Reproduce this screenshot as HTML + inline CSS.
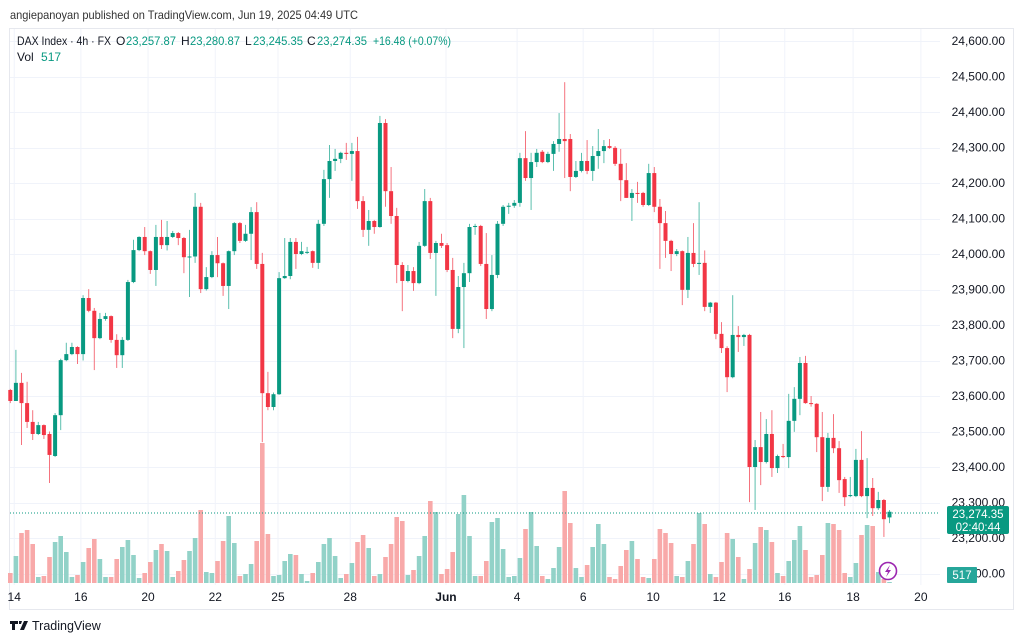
<!DOCTYPE html>
<html><head><meta charset="utf-8">
<style>
html,body{margin:0;padding:0;background:#fff;width:1024px;height:642px;overflow:hidden;font-family:"Liberation Sans",sans-serif;}
svg text{font-family:"Liberation Sans",sans-serif;}
</style></head>
<body>
<svg id="chart" width="1024" height="642" viewBox="0 0 1024 642" xmlns="http://www.w3.org/2000/svg">
  <text x="10" y="19" font-size="12" fill="#333" textLength="348" lengthAdjust="spacingAndGlyphs">angiepanoyan published on TradingView.com, Jun 19, 2025 04:49 UTC</text>
  <rect x="9.5" y="28.5" width="1004" height="581" fill="#fff" stroke="#e6e8ee"/>
  <g id="grid"></g>
  <g id="vols"></g>
  <line x1="10" x2="940" y1="513" y2="513" stroke="#089981" stroke-width="1" stroke-dasharray="1,2"/>
  <g id="candles"></g>
  <g id="yaxis"></g>
  <g id="xaxis"></g>
  <g font-size="12">
    <text x="17" y="45" fill="#131722" textLength="94" lengthAdjust="spacingAndGlyphs">DAX Index · 4h · FX</text>
    <text x="116" y="45" fill="#131722">O</text>
    <text x="126" y="45" fill="#089981" textLength="50" lengthAdjust="spacingAndGlyphs">23,257.87</text>
    <text x="181" y="45" fill="#131722">H</text>
    <text x="190" y="45" fill="#089981" textLength="50" lengthAdjust="spacingAndGlyphs">23,280.87</text>
    <text x="245" y="45" fill="#131722">L</text>
    <text x="253" y="45" fill="#089981" textLength="50" lengthAdjust="spacingAndGlyphs">23,245.35</text>
    <text x="307" y="45" fill="#131722">C</text>
    <text x="317" y="45" fill="#089981" textLength="50" lengthAdjust="spacingAndGlyphs">23,274.35</text>
    <text x="373" y="45" fill="#089981" textLength="78" lengthAdjust="spacingAndGlyphs">+16.48 (+0.07%)</text>
  </g>
  <text x="17" y="61" font-size="12" fill="#131722">Vol <tspan fill="#089981" dx="4">517</tspan></text>
  <rect x="947" y="506" width="62" height="28" rx="2" fill="#089981"/>
  <text x="978" y="518" font-size="11.5" fill="#fff" text-anchor="middle">23,274.35</text>
  <text x="978" y="531" font-size="11.5" fill="#fff" text-anchor="middle">02:40:44</text>
  <rect x="947" y="567" width="30" height="16" rx="1" fill="#26a69a"/>
  <text x="962" y="579" font-size="11.5" fill="#fff" text-anchor="middle">517</text>
  <g>
    <circle cx="888" cy="571" r="8.5" fill="#fff" stroke="#9c27b0" stroke-width="1.6"/>
    <path d="M890 565 L885 572 L888 572 L886 577 L891 570 L888 570 Z" fill="#9c27b0"/>
  </g>
  <g>
    <path d="M10 621 h8 v3 h-3 v6 h-3 v-6 h-2 z M19 621 h3 l-1 3 h-2 z M24 621 h4 l-4 9 h-4 z" fill="#131722"/>
    <text x="32" y="630" font-size="12.5" fill="#131722">TradingView</text>
  </g>
</svg>
<script>
const opens=[23617,23586,23637,23580,23527,23493,23518,23493,23431,23546,23701,23718,23738,23718,23876,23840,23763,23817,23825,23758,23715,23758,23921,24011,24048,24008,23955,24048,24025,24048,24059,24045,23991,23993,24133,23901,23935,23997,23974,23910,24008,24087,24037,24057,24118,23972,23608,23569,23605,23932,23938,24034,24000,24005,24008,23975,24085,24211,24262,24268,24285,24282,24290,24149,24068,24093,24076,24369,24177,24107,23969,23924,23952,23918,24023,24149,24003,24031,24025,23955,23789,23907,23946,24076,24079,23972,23845,23941,24085,24133,24136,24144,24270,24214,24259,24288,24259,24282,24310,24324,24324,24217,24234,24262,24234,24276,24290,24304,24299,24254,24208,24158,24172,24172,24138,24228,24133,24087,24037,24000,24008,23899,24003,23972,23975,23851,23863,23775,23735,23653,23772,23766,23772,23400,23456,23414,23493,23397,23431,23428,23530,23592,23693,23580,23578,23484,23344,23482,23453,23366,23318,23318,23420,23318,23341,23284,23307,23258];
const highs=[23620,23730,23665,23640,23560,23527,23520,23500,23552,23705,23750,23750,23740,23884,23901,23848,23834,23834,23827,23774,23766,23927,24040,24050,24076,24010,24082,24096,24093,24065,24062,24048,24068,24172,24144,23963,24008,24048,23976,24010,24090,24090,24082,24132,24146,24003,23668,23610,23949,24045,24045,24045,24034,24020,24010,24096,24237,24307,24296,24288,24313,24313,24330,24163,24124,24096,24389,24380,24245,24130,23977,23969,23963,24034,24183,24158,24037,24057,24031,23989,23938,23975,24085,24085,24082,24059,23997,24093,24138,24144,24152,24285,24346,24285,24296,24293,24288,24318,24397,24484,24338,24262,24285,24321,24304,24352,24321,24324,24304,24296,24256,24183,24203,24175,24254,24245,24155,24121,24040,24014,24010,24048,24087,24146,24010,23865,23865,23808,23740,23884,23797,23775,23775,23476,23555,23535,23560,23435,23465,23606,23625,23710,23713,23600,23580,23555,23496,23549,23473,23372,23372,23451,23501,23425,23369,23330,23310,23279];
const lows=[23580,23586,23462,23510,23476,23490,23479,23355,23428,23504,23698,23715,23690,23700,23836,23673,23760,23812,23750,23679,23679,23755,23918,24008,23997,23944,23910,24014,24010,24045,24025,23946,23879,23975,23890,23897,23932,23935,23882,23845,23997,24031,24034,23983,23958,23470,23560,23560,23603,23930,23929,23958,23997,24000,23961,23958,24079,24158,24234,24256,24265,24206,24127,24048,24023,24057,24074,24133,24085,23918,23839,23920,23896,23915,24020,23986,23882,24017,23949,23763,23777,23735,23921,24054,23966,23817,23839,23932,24079,24113,24130,24133,24206,24124,24245,24256,24256,24234,24288,24214,24177,24214,24230,24225,24206,24240,24256,24296,24248,24149,24158,24093,24144,24133,24135,24118,23958,23989,23952,23994,23856,23876,23963,23941,23839,23834,23760,23721,23611,23650,23724,23741,23301,23279,23349,23410,23372,23383,23425,23397,23499,23546,23578,23570,23442,23304,23330,23439,23327,23290,23315,23315,23315,23256,23262,23279,23203,23242];
const closes=[23586,23637,23580,23527,23493,23518,23490,23434,23546,23701,23718,23738,23718,23876,23840,23763,23817,23825,23758,23715,23758,23921,24011,24048,24008,23955,24048,24025,24048,24059,24045,23991,23993,24133,23901,23935,23997,23974,23910,24008,24087,24037,24057,24118,23972,23608,23569,23605,23932,23938,24034,24000,24008,24006,23975,24085,24211,24262,24268,24285,24282,24290,24149,24068,24093,24076,24369,24177,24107,23969,23924,23952,23918,24023,24149,24003,24031,24023,23955,23789,23907,23946,24076,24079,23972,23845,23941,24085,24133,24136,24144,24270,24214,24259,24285,24259,24282,24310,24324,24318,24217,24234,24262,24234,24276,24290,24304,24299,24254,24208,24158,24172,24170,24138,24228,24133,24087,24037,24000,24008,23899,24003,23972,23975,23851,23863,23775,23735,23653,23772,23766,23772,23400,23456,23414,23493,23397,23431,23428,23530,23592,23693,23580,23578,23484,23344,23482,23453,23363,23315,23321,23420,23318,23341,23284,23307,23253,23274];
const volumes=[10,27,50,53,39,6,7,26,41,47,31,6,8,21,35,44,24,6,6,24,36,43,28,5,10,21,33,39,32,6,12,23,32,45,73,11,10,22,42,67,40,7,9,19,42,140,49,7,8,22,29,28,9,2,10,21,39,45,27,5,9,20,41,48,35,7,9,26,39,66,62,8,13,27,47,82,71,9,14,31,69,88,47,7,7,22,61,65,34,6,7,25,54,71,37,7,4,15,36,92,60,15,6,18,36,59,39,6,4,17,33,42,24,6,5,24,54,50,40,7,6,22,39,70,59,9,6,21,50,44,26,4,14,40,56,53,41,10,7,22,43,57,33,6,8,28,60,59,53,10,6,20,48,58,57,11,4,1];
const priceTicks=[24600,24500,24400,24300,24200,24100,24000,23900,23800,23700,23600,23500,23400,23300,23200,23100];
const timeTickLabels=["14","16","20","22","25","28","Jun","4","6","10","12","16","18","20"];
const timeTickIndex=[0.7,12.6,24.6,36.6,47.8,60.7,77.8,90.5,102.3,114.8,126.6,138.3,150.5,162.6];

const NS="http://www.w3.org/2000/svg";
const xOf=i=>10.3+i*5.6;
const yOf=p=>41+(24600-p)*0.355;
const vY=v=>583-v;
function mk(tag,attrs,parent){const e=document.createElementNS(NS,tag);for(const k in attrs)e.setAttribute(k,attrs[k]);parent.appendChild(e);return e;}
const grid=document.getElementById('grid'),cg=document.getElementById('candles'),vg=document.getElementById('vols'),ya=document.getElementById('yaxis'),xa=document.getElementById('xaxis');
priceTicks.forEach(p=>{
  const y=Math.round(yOf(p))+0.5;
  const l=mk('line',{x1:10,x2:940,y1:y,y2:y,stroke:'#f0f3fa','stroke-width':1},grid);
  
  
  const t=mk('text',{x:1005,y:yOf(p)+4,'font-size':12,fill:'#131722','text-anchor':'end'},ya);
  t.textContent=p.toLocaleString('en-US',{minimumFractionDigits:2});
  
  
});
timeTickLabels.forEach((lab,k)=>{
  const x=xOf(timeTickIndex[k]);
  const l=mk('line',{x1:x,x2:x,y1:29,y2:585,stroke:'#f0f3fa','stroke-width':1},grid);
  
  
  const t=mk('text',{x:x,y:601,'font-size':12,fill:'#131722','text-anchor':'middle','font-weight':lab==='Jun'?'bold':'normal'},xa);
  t.textContent=lab;
  
  
});
for(let i=0;i<opens.length;i++){
  const up=closes[i]>=opens[i];
  const x=xOf(i);
  const vb=mk('rect',{x:x-2.3,y:vY(volumes[i]),width:4.6,height:volumes[i],fill:up?'#92d2c8':'#f8a9a9'},vg);
  
  
  const col=up?'#089981':'#f23645';
  const g=mk('g',{},cg);
  
  
  mk('line',{x1:x,x2:x,y1:yOf(highs[i]),y2:yOf(lows[i]),stroke:up?'#5bbfae':'#f5737e','stroke-width':1},g);
  const top=yOf(Math.max(opens[i],closes[i])),bot=yOf(Math.min(opens[i],closes[i]));
  mk('rect',{x:x-2,y:top,width:4,height:Math.max(1,bot-top),fill:col},g);
}
</script>
</body></html>
